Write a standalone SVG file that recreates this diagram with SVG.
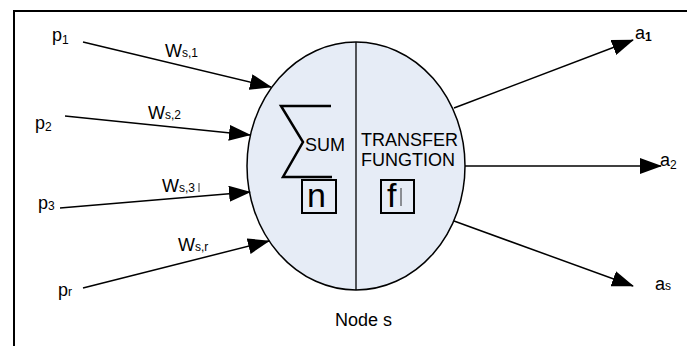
<svg xmlns="http://www.w3.org/2000/svg" width="687" height="346" viewBox="0 0 687 346">
<style>
text{font-family:"Liberation Sans",Arial,sans-serif;fill:#000}
.lbl{font-size:18px}
.sub{font-size:12px}
.conn{stroke:#000;stroke-width:1.5;fill:none;marker-end:url(#ah)}
.box{fill:none;stroke:#000;stroke-width:2}
</style>
<defs>
<marker id="ah" markerWidth="22" markerHeight="16" refX="21" refY="8" orient="auto" markerUnits="userSpaceOnUse">
<path d="M0,0 L22,8 L0,16 z" fill="#000"/>
</marker>
</defs>
<rect x="0" y="0" width="687" height="346" fill="#fff"/>
<rect x="14" y="11" width="700" height="360" fill="none" stroke="#000" stroke-width="2"/>
<g id="node-s">
<ellipse cx="356" cy="166" rx="109" ry="124" fill="#e6ecf6" stroke="#000" stroke-width="1.5"/>
<line x1="356" y1="42" x2="356" y2="290" stroke="#000" stroke-width="1.3"/>
<path d="M331,106 L281,106 L303,142 L283,177 L332,177" fill="none" stroke="#000" stroke-width="2.5"/>
<text class="lbl" x="305" y="151">SUM</text>
<text class="lbl" x="361" y="146">TRANSFER</text>
<text class="lbl" x="361" y="166">FUNGTION</text>
<rect class="box" x="302" y="180" width="34" height="33"/>
<text x="307" y="207" style="font-size:34px">n</text>
<rect class="box" x="381" y="180" width="33" height="33"/>
<text x="387" y="207" style="font-size:34px">f</text>
<line x1="401" y1="188" x2="401" y2="206" stroke="#000" stroke-width="0.8"/>
<text class="lbl" x="335" y="326">Node s</text>
</g>
<g id="inputs">
<g id="p1"><text class="lbl" x="52" y="41">p<tspan class="sub" dy="3">1</tspan></text></g>
<g id="p2"><text class="lbl" x="35" y="129">p<tspan class="sub" dy="2">2</tspan></text></g>
<g id="p3"><text class="lbl" x="38" y="209">p<tspan class="sub" dy="1">3</tspan></text></g>
<g id="pr"><text class="lbl" x="58" y="296">p<tspan class="sub">r</tspan></text></g>
</g>
<g id="weights">
<text class="lbl" x="165" y="57">W<tspan class="sub">s,1</tspan></text>
<text class="lbl" x="148" y="119">W<tspan class="sub">s,2</tspan></text>
<text class="lbl" x="162" y="192">W<tspan class="sub">s,3</tspan></text>
<line x1="199" y1="183" x2="199" y2="192" stroke="#000" stroke-width="0.8"/>
<text class="lbl" x="178" y="251">W<tspan class="sub">s,r</tspan></text>
</g>
<g id="outputs">
<g id="a1"><text class="lbl" x="635" y="39">a<tspan class="sub" dy="2" font-weight="bold">1</tspan></text></g>
<g id="a2"><text class="lbl" x="660" y="166">a<tspan class="sub" dy="3">2</tspan></text></g>
<g id="as"><text class="lbl" x="655" y="290">a<tspan class="sub">s</tspan></text></g>
</g>
<g id="connectors">
<line class="conn" x1="83" y1="42" x2="271" y2="87"/>
<line class="conn" x1="65" y1="116" x2="250" y2="135"/>
<line class="conn" x1="60" y1="208" x2="250" y2="192"/>
<line class="conn" x1="83" y1="288" x2="269" y2="241"/>
<line class="conn" x1="454" y1="108" x2="633" y2="40"/>
<line class="conn" x1="465" y1="166" x2="661" y2="166"/>
<line class="conn" x1="454" y1="221" x2="633" y2="286"/>
</g>
</svg>
